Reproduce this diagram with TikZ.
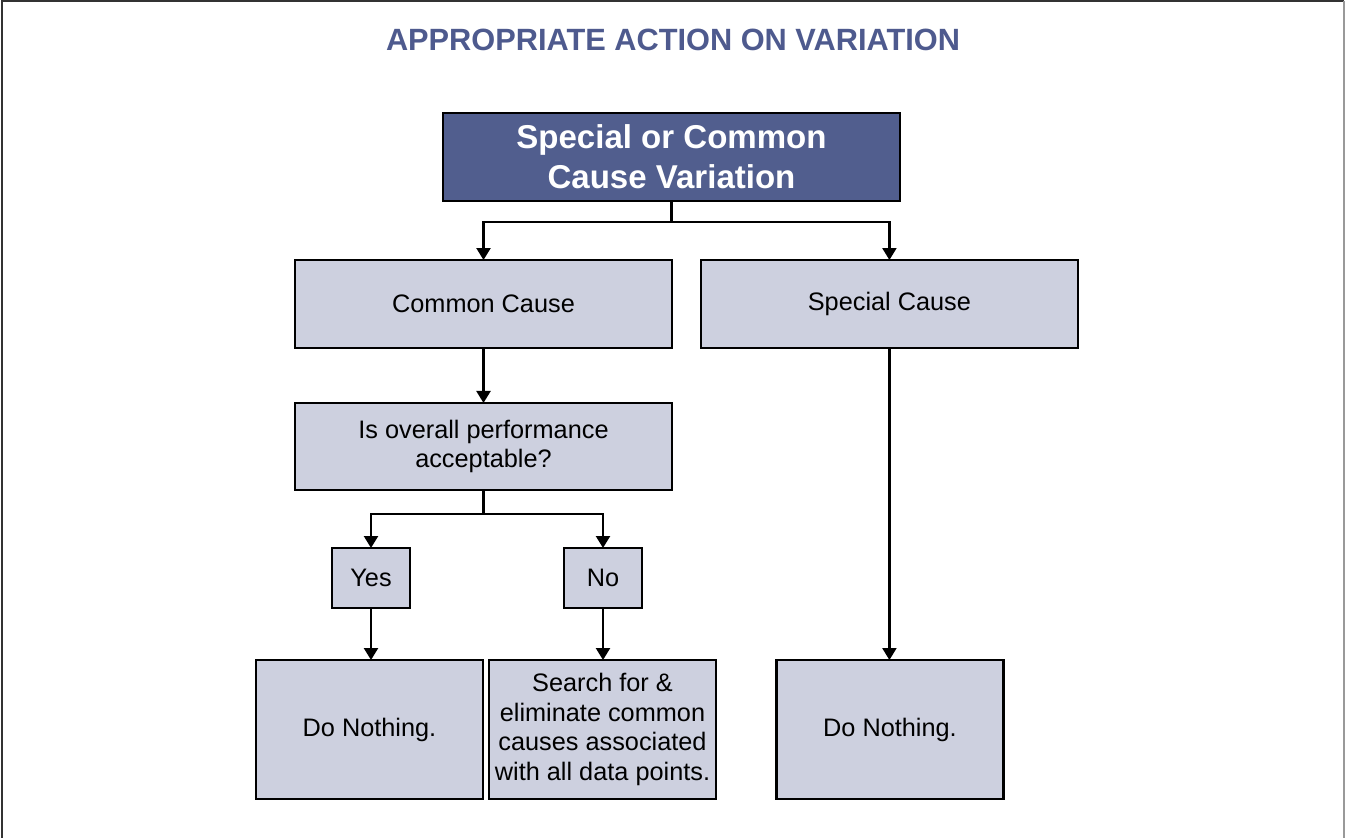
\documentclass[tikz,border=0pt]{standalone}
\usepackage{fontspec}
\setmainfont{Liberation Sans}
\usepackage{xcolor}
\usetikzlibrary{positioning,arrows.meta}

\definecolor{headblue}{HTML}{515E8E}
\definecolor{titleblue}{HTML}{4E5A8E}
\definecolor{cellgray}{HTML}{CDD0DF}

\tikzset{
  cell/.style={draw=black, line width=1.5pt, fill=cellgray, align=center,
    inner sep=0pt, outer sep=0pt, font=\fontsize{14.4}{17}\selectfont},
  head/.style={cell, fill=headblue, text=white,
    font=\bfseries\fontsize{18.8}{22.7}\selectfont},
  arr/.style={line width=1.3pt, -{Triangle[length=2.4mm,width=2.8mm]}},
}

\begin{document}
\begin{tikzpicture}[x=0.02cm,y=-0.02cm]
  \useasboundingbox (0,0) rectangle (1345,838);
  % frame
  \draw[line width=0.8pt, black!80] (2,838) -- (2,1) -- (1344,1);
  \draw[line width=0.8pt, black!40] (1344,1) -- (1344,838);

  \node[text=titleblue, font=\bfseries\fontsize{17.5}{21}\selectfont] (title) at (673,40) {APPROPRIATE ACTION ON VARIATION};

  \node[head, minimum width=9.14cm, minimum height=1.76cm] (top) at (671.5,157) {Special or Common\\Cause Variation};

  \node[cell, minimum width=7.54cm, minimum height=1.76cm] (common) at (483.5,304) {Common Cause};
  \node[cell, minimum width=7.54cm, minimum height=1.76cm, right=0.58cm of common] (special) {Special Cause};
  \node[cell, minimum width=7.54cm, minimum height=1.74cm, below=1.1cm of common] (perf) {Is overall performance\\acceptable?};

  \node[cell, minimum width=1.56cm, minimum height=1.2cm] (yes) at (371,578) {Yes};
  \node[cell, minimum width=1.56cm, minimum height=1.2cm] (no) at (603,578) {No};

  \node[cell, minimum width=4.54cm, minimum height=2.78cm] (nothingA) at (369.5,729.5) {Do Nothing.};
  \node[cell, minimum width=4.54cm, minimum height=2.78cm] (search) at (602.5,729.5) {Search for \&\\eliminate common\\causes associated\\with all data points.};
  \node[cell, minimum width=4.54cm, minimum height=2.78cm] (nothingB) at (890,729.5) {Do Nothing.};

  \draw[arr] (top.south) -- ++(0,21) -| (common.north);
  \draw[arr] (top.south) -- ++(0,21) -| (special.north);
  \draw[arr] (common) -- (perf);
  \draw[arr] (perf.south) -- ++(0,24) -| (yes.north);
  \draw[arr] (perf.south) -- ++(0,24) -| (no.north);
  \draw[arr] (yes.south) -- (yes.south |- nothingA.north);
  \draw[arr] (no.south) -- (no.south |- search.north);
  \draw[arr] (special.south) -- (special.south |- nothingB.north);
\end{tikzpicture}
\end{document}
